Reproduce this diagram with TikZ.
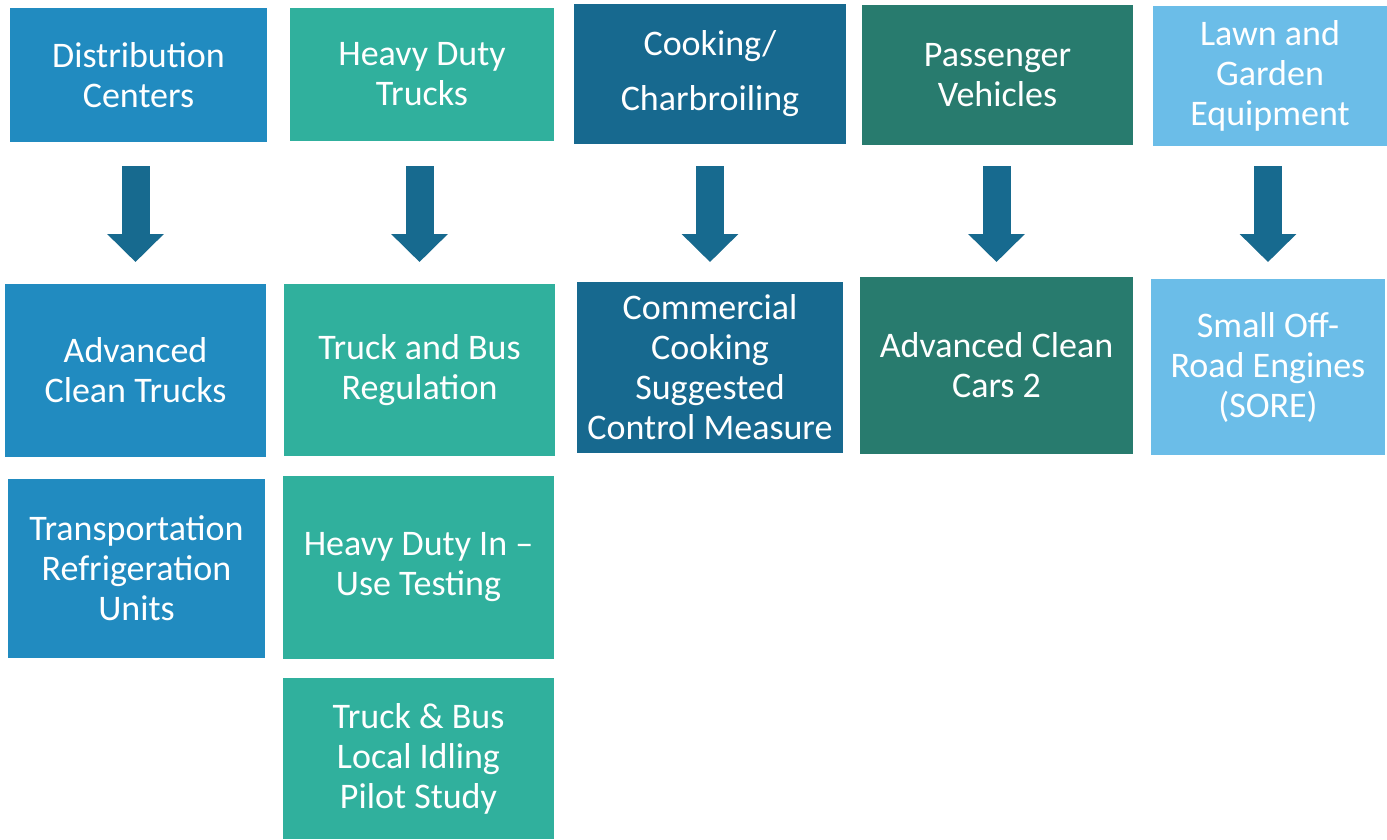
\documentclass[tikz,border=0pt]{standalone}
\usepackage{fontspec}
\setmainfont{Carlito}
\usetikzlibrary{arrows.meta}

\definecolor{colA}{HTML}{218BC0}
\definecolor{colB}{HTML}{30B09D}
\definecolor{colC}{HTML}{17698F}
\definecolor{colD}{HTML}{287B6E}
\definecolor{colE}{HTML}{6BBDE8}
\definecolor{arrowblue}{HTML}{176A8F}

\tikzset{
  box/.style={rectangle, inner sep=0pt, text=white, align=center,
    font=\fontsize{36}{40}\selectfont},
  flow/.style={arrowblue, line width=28pt,
    -{Triangle[width=55pt,length=28pt]}},
  flowshadow/.style={black!35, opacity=0.35, line width=28pt,
    -{Triangle[width=55pt,length=28pt]}, xshift=2pt, yshift=-2pt}
}

\begin{document}
\begin{tikzpicture}[x=1pt,y=-1pt]
    \useasboundingbox (0,0) rectangle (1387,839);

    % Top row: sources
    \node [box, fill=colA, minimum width=257pt, minimum height=134pt] (dist) at (138.5,75) {Distribution\\Centers};
    \node [box, fill=colB, minimum width=264pt, minimum height=133pt] (hdt) at (422,74.5) {Heavy Duty\\Trucks};
    \node [box, fill=colC, minimum width=272pt, minimum height=140pt] (cook) at (710,74) {Cooking/\\[15pt]Charbroiling};
    \node [box, fill=colD, minimum width=271pt, minimum height=140pt] (pass) at (997.5,75) {Passenger\\Vehicles};
    \node [box, fill=colE, minimum width=234pt, minimum height=140pt] (lawn) at (1270,76) {Lawn and\\Garden\\Equipment};

    % Second row: measures
    \node [box, fill=colA, minimum width=261pt, minimum height=173pt] (act) at (135.5,370.5) {Advanced\\Clean Trucks};
    \node [box, fill=colB, minimum width=271pt, minimum height=172pt] (tbr) at (419.5,370) {Truck and Bus\\Regulation};
    \node [box, fill=colC, minimum width=266pt, minimum height=171pt] (ccs) at (710,367.5) {Commercial\\Cooking\\Suggested\\Control Measure};
    \node [box, fill=colD, minimum width=273pt, minimum height=177pt] (acc) at (996.5,365.5) {Advanced Clean\\Cars 2};
    \node [box, fill=colE, minimum width=234pt, minimum height=176pt] (sore) at (1268,367) {Small Off-\\Road Engines\\(SORE)};

    % Further measures
    \node [box, fill=colA, minimum width=257pt, minimum height=179pt] (tru) at (136.5,568.5) {Transportation\\Refrigeration\\Units};
    \node [box, fill=colB, minimum width=271pt, minimum height=183pt] (hdit) at (418.5,567.5) {Heavy Duty In --\\Use Testing};
    \node [box, fill=colB, minimum width=271pt, minimum height=161pt] (tbl) at (418.5,758.5) {Truck \& Bus\\Local Idling\\Pilot Study};

    % Block arrows
    \coordinate (toprow) at (0,166);
    \coordinate (tiprow) at (0,262);
    \foreach \lower in {act,tbr,ccs,acc,sore}{
        \draw [flowshadow] (\lower.north |- toprow) -- (\lower.north |- tiprow);
        \draw [flow] (\lower.north |- toprow) -- (\lower.north |- tiprow);
    }
\end{tikzpicture}
\end{document}
